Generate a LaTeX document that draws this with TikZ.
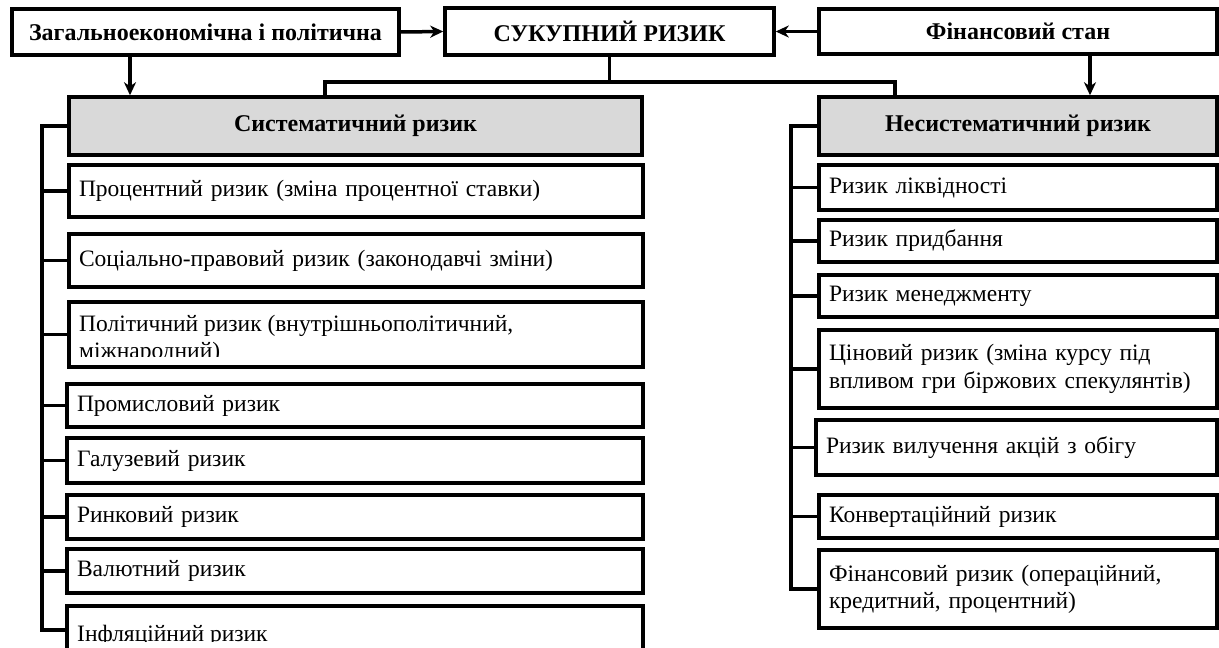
\documentclass[tikz,border=0pt]{standalone}
\usepackage{fontspec}
\setmainfont{Liberation Serif}
\usetikzlibrary{arrows.meta}
\definecolor{boxgray}{RGB}{217,217,217}
\begin{document}
\begin{tikzpicture}[x=1pt,y=-1pt,
  box/.style={draw, line width=3.5pt, rectangle, inner xsep=10pt, inner ysep=0pt, align=left, font=\fontsize{23.5}{27}\selectfont},
  txt/.style={inner sep=0pt, font=\fontsize{23.5}{27}\selectfont, anchor=base west},
  hbox/.style={draw, line width=3.5pt, rectangle, inner sep=0pt, align=center, font=\fontsize{24}{28}\selectfont\bfseries},
  conn/.style={line width=3.5pt, line join=miter},
  arr/.style={line width=3.5pt, -{Stealth[length=13pt,width=12pt,inset=4pt]}}]
\useasboundingbox (0,0) rectangle (1219,648);
\clip (0,0) rectangle (1219,648);
% header row
\node[hbox, minimum width=387pt, minimum height=46pt] (L0) at (205.5,32) {Загальноекономічна і політична};
\node[hbox, minimum width=329pt, minimum height=47pt] (C0) at (609.5,31.5) {СУКУПНИЙ РИЗИК};
\node[hbox, minimum width=398pt, minimum height=45pt] (R0) at (1018,31.5) {Фінансовий стан};
\node[hbox, fill=boxgray, minimum width=573pt, minimum height=58pt] (SYS) at (355.5,126) {Систематичний ризик};
\node[hbox, fill=boxgray, minimum width=398pt, minimum height=58pt] (NSYS) at (1018,126) {Несистематичний ризик};
% left items
\node[box, minimum width=574pt, minimum height=52pt, text width=554pt] (b1) at (356,191) {Процентний ризик (зміна процентної ставки)};
\node[box, minimum width=574pt, minimum height=53pt, text width=554pt] (b2) at (356,260.5) {Соціально-правовий ризик (законодавчі зміни)};
\node[box, minimum width=574pt, minimum height=65pt, text width=554pt] (b3) at (356,334.5) {};
\begin{scope}
\clip (71,304) rectangle (641,356);
\node[txt] (b3a) at (79,331) {Політичний ризик (внутрішньополітичний,};
\node[txt] (b3b) at (79,358.5) {міжнародний)};
\end{scope}
\node[box, minimum width=576pt, minimum height=43pt, text width=556pt] (b4) at (355,405.5) {Промисловий ризик};
\node[box, minimum width=576pt, minimum height=45pt, text width=556pt] (b5) at (355,460.5) {Галузевий ризик};
\node[box, minimum width=576pt, minimum height=44pt, text width=556pt] (b6) at (355,517) {Ринковий ризик};
\node[box, minimum width=576pt, minimum height=44pt, text width=556pt] (b7) at (355,571) {Валютний ризик};
\node[box, minimum width=576pt, minimum height=48pt, text width=556pt] (b8) at (355,630) {};
\begin{scope}
\clip (71,607) rectangle (641,641);
\node[txt] (b8a) at (77,641) {Інфляційний ризик};
\end{scope}
% right items
\node[box, minimum width=398pt, minimum height=45pt, text width=378pt] (r1) at (1018,187.5) {Ризик ліквідності};
\node[box, minimum width=398pt, minimum height=42pt, text width=378pt] (r2) at (1018,241) {Ризик придбання};
\node[box, minimum width=398pt, minimum height=42pt, text width=378pt] (r3) at (1018,296) {Ризик менеджменту};
\node[box, minimum width=398pt, minimum height=78pt, text width=378pt, font=\fontsize{23.5}{28.5}\selectfont] (r4) at (1018,369) {Ціновий ризик (зміна курсу під\\впливом гри біржових спекулянтів)};
\node[box, minimum width=401pt, minimum height=55pt, text width=381pt] (r5) at (1016.5,447.5) {Ризик вилучення акцій з обігу};
\node[box, minimum width=398pt, minimum height=43pt, text width=378pt] (r6) at (1018,516.5) {Конвертаційний ризик};
\node[box, minimum width=398pt, minimum height=78pt, text width=378pt] (r7) at (1018,589) {Фінансовий ризик (операційний,\\кредитний, процентний)};
% arrows at top
\draw[arr] (L0.east) -- (C0.west);
\draw[arr] (R0.west) -- (C0.east);
\draw[arr] (130,0 |- L0.south) -- (130,0 |- SYS.north);
\draw[arr] (1090,0 |- R0.south) -- (1090,0 |- NSYS.north);
% split from total risk
\coordinate (split) at (609.5,82);
\draw[conn] (C0.south) -- (split);
\draw[conn] (325,0 |- SYS.north) -- (325,0 |- split) -- (895,0 |- split) -- (895,0 |- NSYS.north);
% left bus
\draw[conn] (SYS.west) -- (42,0 |- SYS.west) -- (42,0 |- b8.west) -- (b8.west);
\foreach \n in {b1,b2,b3,b4,b5,b6,b7} \draw[conn] (42,0 |- \n.west) -- (\n.west);
% right bus
\draw[conn] (NSYS.west) -- (791,0 |- NSYS.west) -- (791,0 |- r7.west) -- (r7.west);
\foreach \n in {r1,r2,r3,r4,r5,r6} \draw[conn] (791,0 |- \n.west) -- (\n.west);
\end{tikzpicture}
\end{document}
